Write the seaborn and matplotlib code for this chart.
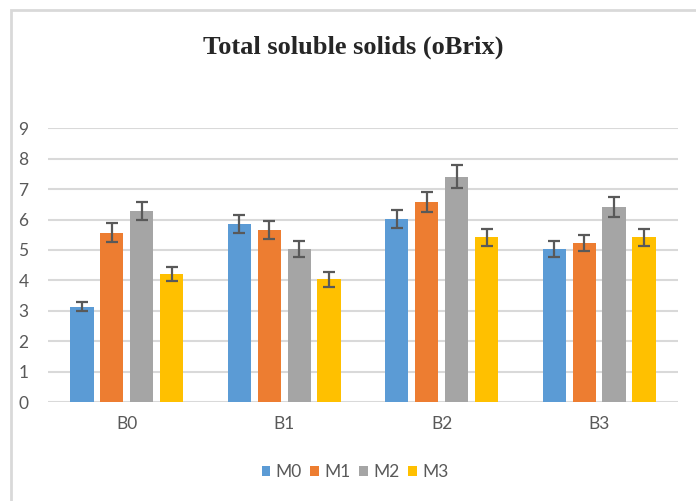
import numpy as np
import pandas as pd
import seaborn as sns
import matplotlib.pyplot as plt
from matplotlib.patches import Rectangle

# values
groups = ['B0', 'B1', 'B2', 'B3']
treatments = ['M0', 'M1', 'M2', 'M3']
m0 = [3.13, 5.86, 6.01, 5.04]
m1 = [5.57, 5.65, 6.58, 5.22]
m2 = [6.29, 5.04, 7.41, 6.40]
m3 = [4.21, 4.03, 5.41, 5.41]
err_m0 = [0.15, 0.30, 0.30, 0.26]
err_m1 = [0.30, 0.30, 0.33, 0.27]
err_m2 = [0.30, 0.26, 0.37, 0.33]
err_m3 = [0.22, 0.24, 0.28, 0.28]

colors = ['#5B9BD5', '#ED7D31', '#A5A5A5', '#FFC000']

df = pd.DataFrame({
    'group': groups * 4,
    'treatment': [t for t in treatments for _ in groups],
    'value': m0 + m1 + m2 + m3,
    'err': err_m0 + err_m1 + err_m2 + err_m3,
})

sns.set_style('white')
plt.rcParams['font.family'] = ['Lato', 'DejaVu Sans']

fig = plt.figure(figsize=(6.96, 5.01), dpi=100)
ax = fig.add_axes([0.069, 0.1976, 0.905, 0.5464])

sns.barplot(data=df, x='group', y='value', hue='treatment', palette=colors,
            saturation=1, width=0.76, gap=0.22, errorbar=None, ax=ax,
            legend=True, edgecolor='none', zorder=3)

# error bars at the bar centres (one container per hue level)
for cont, t in zip(ax.containers, treatments):
    sub = df[df.treatment == t]
    xs = [p.get_x() + p.get_width() / 2 for p in cont.patches]
    ax.errorbar(xs, sub['value'], yerr=sub['err'], fmt='none',
                ecolor='#595959', elinewidth=1.6, capsize=4, capthick=1.6, zorder=4)

ax.set_ylim(0, 9)
ax.set_yticks(range(0, 10))
ax.set_xlim(-0.5, 3.5)
ax.grid(axis='y', color='#D9D9D9', lw=1.5, zorder=0)
ax.set_axisbelow(True)
for s in ax.spines.values():
    s.set_visible(False)
ax.tick_params(axis='both', length=0, labelsize=12.5, labelcolor='#595959')
ax.tick_params(axis='y', pad=14)
ax.tick_params(axis='x', pad=10)
ax.set_xlabel('')
ax.set_ylabel('')

handles, labels = ax.get_legend_handles_labels()
ax.legend(handles, labels, loc='center', bbox_to_anchor=(0.51, 0.058),
          bbox_transform=fig.transFigure, ncol=4, frameon=False,
          handlelength=0.5, handleheight=0.5, handletextpad=0.3,
          columnspacing=0.5, fontsize=12.5, labelcolor='#595959')

fig.text(0.508, 0.905, 'Total soluble solids (oBrix)', ha='center', va='center',
         fontsize=19, fontweight='bold', family='Liberation Serif')

# chart area frame
fig.patches.append(Rectangle((11 / 696, -0.1), 1.1, 1 - 10 / 501 + 0.1,
                             transform=fig.transFigure, fill=False,
                             ec='#D9D9D9', lw=2))

fig.savefig('out.png', dpi=100)
